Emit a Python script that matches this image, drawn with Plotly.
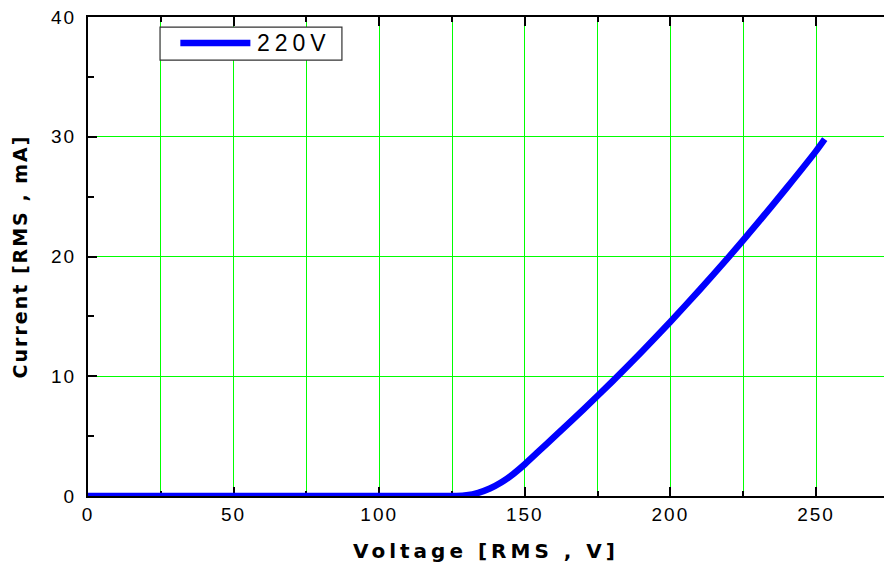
import plotly.graph_objects as go

# Data
voltage = [0, 50, 100, 120, 126.5, 130, 134, 138, 142, 146, 150, 155, 160, 170,
           180, 190, 200, 210, 220, 230, 240, 250, 253]
current = [0, 0, 0, 0, 0, 0.06, 0.27, 0.63, 1.15, 1.83, 2.65, 3.78, 4.92, 7.2,
           9.55, 12.0, 14.55, 17.2, 19.95, 22.8, 25.75, 28.8, 29.8]
series_name = "220V"
x_title = "Voltage [RMS , V]"
y_title = "Current [RMS , mA]"

GREEN = "#00ff00"
BLUE = "#0000ff"

fig = go.Figure()
fig.add_trace(go.Scatter(
    x=voltage, y=current, mode="lines", name=series_name,
    line=dict(color=BLUE, width=6.5, shape="spline", smoothing=0.5),
    showlegend=False,
))

# Manual legend (long line sample like the original)
fig.add_shape(type="rect", xref="paper", yref="paper",
              x0=0.0905, x1=0.319, y0=0.910, y1=0.979,
              line=dict(color="#333333", width=1.2), fillcolor="white", layer="above")
fig.add_shape(type="line", xref="paper", yref="paper",
              x0=0.116, x1=0.204, y0=0.9457, y1=0.9457,
              line=dict(color=BLUE, width=6.5), layer="above")
fig.add_annotation(text=series_name, xref="paper", yref="paper",
                   x=0.222, y=0.9457, xanchor="left", yanchor="middle",
                   showarrow=False,
                   font=dict(family="Liberation Sans", size=23, color="black"))

fig.update_layout(
    width=884, height=568,
    margin=dict(l=88, r=0, t=17, b=72),
    paper_bgcolor="white", plot_bgcolor="white",
    font=dict(family="Liberation Sans", color="black"),
)

fig.update_xaxes(
    range=[0, 273.35], dtick=50, tick0=0,
    showgrid=True, gridcolor=GREEN, gridwidth=1,
    showline=True, linecolor="black", linewidth=2, mirror="ticks",
    ticks="inside", ticklen=9, tickwidth=2, tickcolor="black",
    minor=dict(dtick=25, tick0=0, ticks="inside", ticklen=5, tickwidth=2,
               tickcolor="black", showgrid=True, gridcolor=GREEN, gridwidth=1),
    tickfont=dict(family="Liberation Sans", size=19, color="black"),
    title=dict(text=x_title, standoff=20,
               font=dict(family="DejaVu Sans", size=20, color="black", weight="bold")),
    zeroline=False, layer="below traces",
)
fig.update_yaxes(
    range=[0, 40], dtick=10, tick0=0,
    showgrid=True, gridcolor=GREEN, gridwidth=1,
    showline=True, linecolor="black", linewidth=2, mirror=False,
    ticks="inside", ticklen=9, tickwidth=2, tickcolor="black",
    minor=dict(dtick=5, tick0=0, ticks="inside", ticklen=6, tickwidth=2,
               tickcolor="black", showgrid=False),
    tickfont=dict(family="Liberation Sans", size=19, color="black"),
    ticklabelstandoff=6,
    title=dict(text=y_title, standoff=22,
               font=dict(family="DejaVu Sans", size=19, color="black", weight="bold")),
    zeroline=False, layer="below traces",
)

post = """
document.body.style.margin = '0';
var gd = document.getElementById('{plot_id}');
function ls(){
  gd.querySelectorAll('.g-xtitle text').forEach(function(e){e.style.letterSpacing='4px';});
  gd.querySelectorAll('.g-ytitle text').forEach(function(e){e.style.letterSpacing='2px';});
  gd.querySelectorAll('.xtick text, .ytick text').forEach(function(e){e.style.letterSpacing='2px';});
  gd.querySelectorAll('.annotation-text').forEach(function(e){e.style.letterSpacing='5px';});
}
ls();
gd.on('plotly_afterplot', ls);
"""

fig.write_html("out.html", post_script=post, config={"displayModeBar": False})
